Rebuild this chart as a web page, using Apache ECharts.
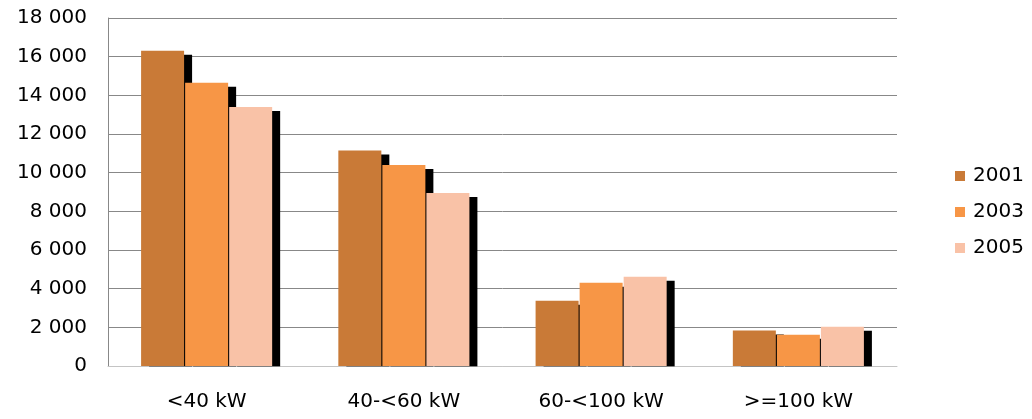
<!DOCTYPE html>
<html>
<head>
<meta charset="utf-8">
<script src="https://cdn.jsdelivr.net/npm/echarts@6/dist/echarts.min.js"></script>
<style>html,body{margin:0;padding:0;background:#fff}#c{width:1032px;height:419px}</style>
</head>
<body>
<div id="c"></div>
<script>
const categories = ['<40 kW', '40-<60 kW', '60-<100 kW', '>=100 kW'];
const seriesNames = ['2001', '2003', '2005'];
const values2001 = [16300, 11150, 3380, 1830];
const values2003 = [14650, 10400, 4300, 1620];
const values2005 = [13400, 8950, 4620, 2030];
const colors = ['#C97A37', '#F79646', '#F9C2A7'];

const chart = echarts.init(document.getElementById('c'), null, {renderer: 'canvas'});
const font = 'DejaVu Sans';
const allValues = [values2001, values2003, values2005];
chart.setOption({
  animation: false,
  grid: {left: 108, right: 135, top: 18, bottom: 53, containLabel: false},
  legend: {
    orient: 'vertical', left: 950, top: 161, itemGap: 16,
    icon: 'rect', itemWidth: 10, itemHeight: 10,
    itemStyle: {shadowColor: 'rgba(0,0,0,0)', shadowOffsetX: 0, shadowOffsetY: 0},
    textStyle: {fontFamily: font, fontSize: 20, color: '#000', padding: [0,0,0,3]},
    data: seriesNames
  },
  xAxis: {
    type: 'category', data: categories,
    axisLine: {show: true, lineStyle: {color: '#888', width: 1}},
    axisTick: {show: false},
    axisLabel: {fontFamily: font, fontSize: 20, color: '#000', margin: 26}
  },
  yAxis: {
    type: 'value', min: 0, max: 18000, interval: 2000,
    axisLine: {show: true, lineStyle: {color: '#888', width: 1}},
    axisTick: {show: false},
    splitLine: {lineStyle: {color: '#888', width: 1}},
    axisLabel: {fontFamily: font, fontSize: 20, color: '#000', margin: 21,
      formatter: v => String(v).replace(/\B(?=(\d{3})+(?!\d))/g, ' ')}
  },
  series: seriesNames.map((n, i) => ({
    name: n, type: 'bar', data: allValues[i],
    barWidth: 43, barGap: '2.4%',
    z: 2 + i,
    itemStyle: {color: colors[i],
      shadowColor: '#000', shadowBlur: 0, shadowOffsetX: 8, shadowOffsetY: 4}
  })),
  graphic: [{
    type: 'rect', z: 100, silent: true,
    shape: {x: 100, y: 366.5, width: 800, height: 6},
    style: {fill: '#fff'}
  }]
});
</script>
</body>
</html>
